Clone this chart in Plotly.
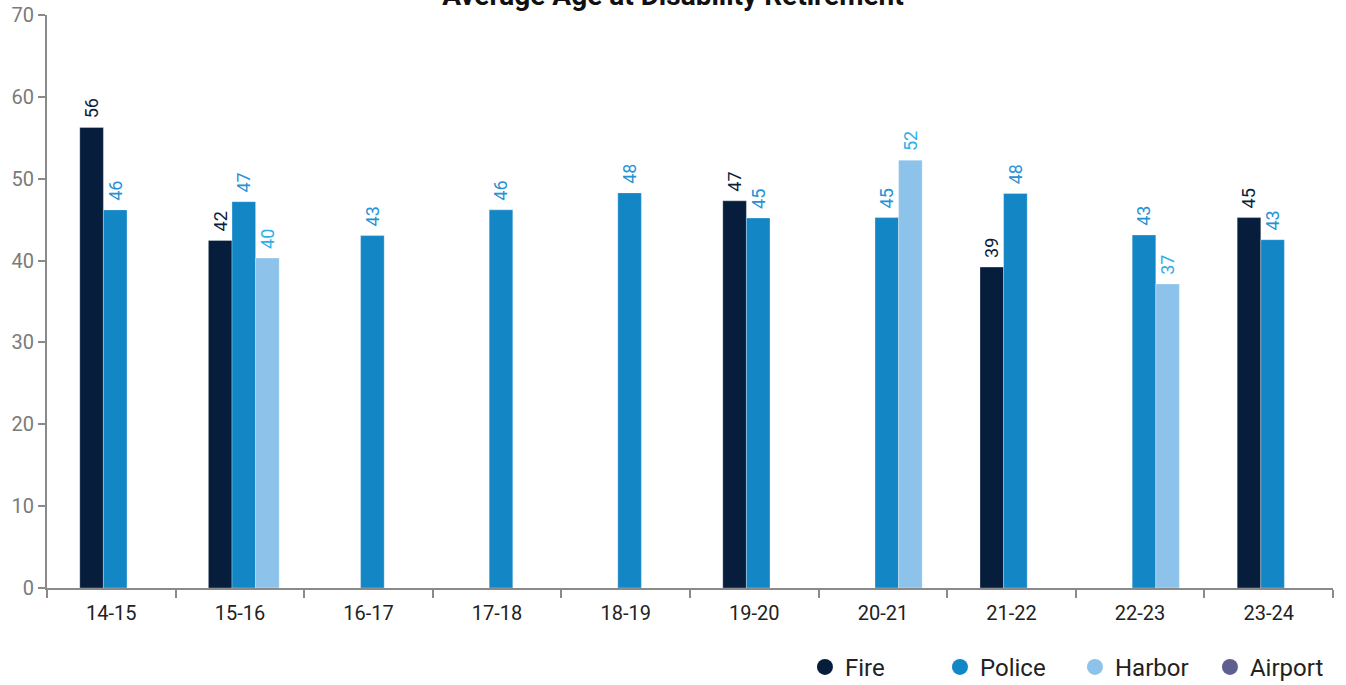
import plotly.graph_objects as go

categories = ["14-15", "15-16", "16-17", "17-18", "18-19", "19-20", "20-21", "21-22", "22-23", "23-24"]
fire = [56.26, 42.45, None, None, None, 47.3, None, 39.2, None, 45.25]
police = [46.19, 47.2, 43.05, 46.2, 48.27, 45.2, 45.25, 48.2, 43.13, 42.55]
harbor = [None, 40.3, None, None, None, None, 52.27, None, 37.14, None]
airport = [None] * 10

series = [
    ("Fire", fire, "#061D3C", "#0B1E3A"),
    ("Police", police, "#1386C6", "#2692D6"),
    ("Harbor", harbor, "#8DC3EA", "#30AEE8"),
    ("Airport", airport, "#5F5E91", "#5F5E91"),
]

bar_w = 0.1835
offsets = [-0.245, -0.0615, 0.122, 0.3055]

fig = go.Figure()
for (name, vals, col, tcol), off in zip(series, offsets):
    fig.add_trace(go.Bar(
        x=categories, y=vals, name=name,
        width=bar_w, offset=off,
        marker=dict(color=col, line=dict(color="rgba(255,255,255,0.6)", width=0.5)),
        texttemplate="\u2004%{y:.0f}", textposition="outside", textangle=-90,
        textfont=dict(family="Roboto", size=18, color=tcol),
        constraintext="none", cliponaxis=False,
        showlegend=False, hoverinfo="skip",
    ))

for name, vals, col, tcol in series:
    fig.add_trace(go.Scatter(
        x=[None], y=[None], mode="markers", name=name,
        marker=dict(symbol="circle", size=18, color=col),
        showlegend=True,
    ))

fig.update_layout(
    width=1346, height=685,
    margin=dict(l=47, r=13, t=15, b=97, autoexpand=False),
    paper_bgcolor="white", plot_bgcolor="white",
    barmode="overlay",
    title=dict(
        text="<b>Average Age at Disability Retirement</b>",
        x=0.5, xref="container", xanchor="center",
        y=0.993, yref="container", yanchor="bottom",
        font=dict(family="Roboto", size=28, color="#111111"),
    ),
    font=dict(family="Roboto"),
    legend=dict(
        orientation="h", xanchor="left", x=0.5894, yanchor="middle", y=-0.1385,
        xref="paper", yref="paper",
        font=dict(family="Roboto", size=24, color="#222222"),
        entrywidth=90, entrywidthmode="pixels",
        itemsizing="trace", bgcolor="rgba(0,0,0,0)",
    ),
    xaxis=dict(
        type="category", range=[-0.5, 9.5],
        showline=True, linecolor="#8A8A8A", linewidth=2,
        ticks="outside", tickson="boundaries", ticklen=8, tickwidth=2, tickcolor="#8A8A8A",
        ticklabelstandoff=6,
        tickfont=dict(family="Roboto", size=20, color="#222222"),
        showgrid=False, zeroline=False,
    ),
    yaxis=dict(
        range=[0, 70], dtick=10,
        showline=True, linecolor="#8A8A8A", linewidth=2,
        ticks="outside", ticklen=7, tickwidth=2, tickcolor="#8A8A8A",
        tickfont=dict(family="Roboto", size=20, color="#7A7A7A"),
        showgrid=False, zeroline=False,
    ),
)

fig.write_html("out.html")
